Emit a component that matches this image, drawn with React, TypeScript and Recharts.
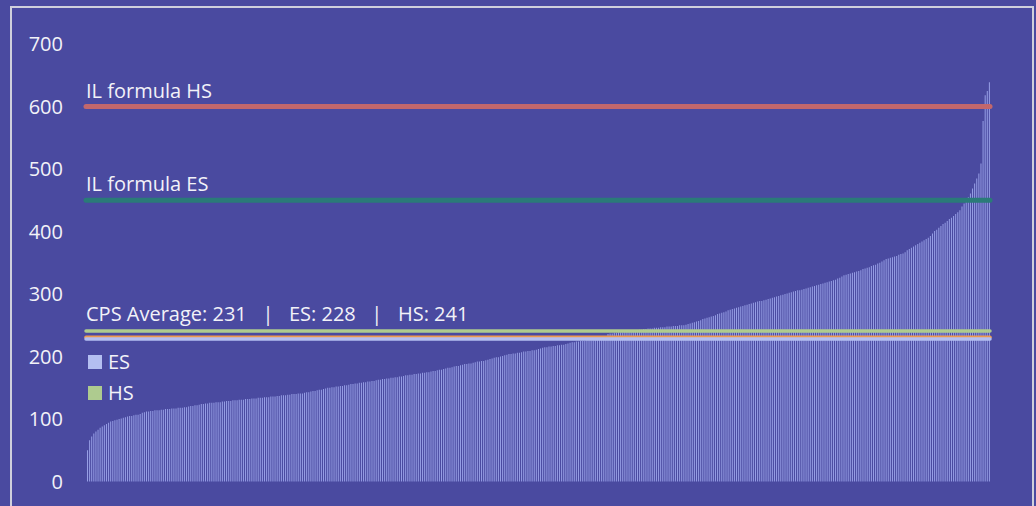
import { ComposedChart, Bar, XAxis, YAxis, ReferenceLine } from 'recharts';

// school-level values, sorted ascending
const schoolValues = [
  50, 66, 72, 77, 80, 83, 86, 88, 90, 92, 94, 96, 97, 98, 99, 100, 101, 102, 103, 104,
  105, 105, 106, 107, 107, 108, 110, 111, 112, 112, 113, 113, 114, 114, 114, 115, 115, 116, 116, 116,
  117, 117, 117, 118, 118, 118, 119, 119, 120, 121, 121, 122, 122, 123, 124, 124, 125, 125, 126, 126,
  126, 127, 127, 127, 128, 128, 129, 129, 129, 130, 130, 130, 131, 131, 131, 132, 132, 132, 133, 133,
  133, 134, 134, 134, 135, 135, 135, 136, 136, 136, 137, 137, 138, 138, 138, 139, 139, 140, 140, 140,
  141, 141, 141, 142, 143, 143, 144, 145, 145, 146, 147, 147, 148, 149, 150, 150, 151, 151, 152, 152,
  153, 153, 154, 154, 155, 156, 156, 157, 157, 158, 158, 159, 159, 160, 160, 161, 161, 162, 163, 163,
  164, 164, 165, 165, 166, 166, 167, 167, 168, 168, 169, 170, 170, 171, 171, 172, 172, 173, 173, 174,
  174, 175, 175, 176, 177, 177, 178, 179, 179, 180, 181, 182, 182, 183, 184, 185, 185, 186, 187, 188,
  188, 189, 189, 190, 191, 192, 192, 193, 193, 194, 195, 196, 197, 198, 199, 199, 200, 201, 202, 203,
  204, 204, 205, 205, 206, 206, 207, 208, 208, 209, 209, 210, 210, 211, 212, 213, 214, 215, 215, 216,
  216, 217, 217, 218, 218, 219, 219, 220, 221, 222, 223, 223, 224, 224, 225, 225, 225, 226, 226, 226,
  226, 227, 227, 227, 228, 229, 232, 236, 237, 237, 238, 238, 239, 239, 239, 240, 240, 241, 241, 242,
  242, 242, 243, 243, 244, 244, 245, 245, 245, 246, 246, 246, 247, 247, 247, 248, 248, 248, 249, 249,
  249, 250, 250, 250, 251, 252, 253, 254, 255, 256, 257, 258, 260, 261, 262, 263, 264, 265, 266, 268,
  269, 270, 271, 272, 274, 275, 276, 277, 278, 279, 280, 281, 282, 283, 284, 285, 286, 287, 288, 289,
  289, 290, 291, 292, 293, 294, 295, 296, 297, 298, 299, 300, 301, 302, 303, 304, 305, 306, 306, 307,
  308, 309, 310, 311, 312, 313, 314, 315, 316, 317, 318, 319, 320, 321, 322, 323, 325, 326, 328, 330,
  331, 332, 333, 334, 335, 336, 337, 338, 340, 341, 342, 343, 345, 346, 347, 349, 350, 352, 354, 356,
  357, 358, 359, 360, 361, 363, 364, 365, 367, 370, 372, 374, 376, 378, 380, 382, 384, 386, 388, 390,
  393, 397, 401, 403, 406, 409, 412, 414, 417, 420, 422, 425, 428, 431, 434, 440, 445, 450, 455, 461,
  469, 477, 485, 493, 509, 577, 618, 625, 639,
];

const yTicks = [0, 100, 200, 300, 400, 500, 600, 700];

const ilFormulaHS = 600;
const ilFormulaES = 450;
const cpsAverage = 231;
const esAverage = 228;
const hsAverage = 241;

const legendItems = [
  { name: 'ES', color: '#b4bff1' },
  { name: 'HS', color: '#aecb8f' },
];

const data = schoolValues.map((v, i) => ({ i, value: v }));

const BG = '#4a4aa0';
const TEXT = '#f2f2f8';
const FONT = '"Open Sans", sans-serif';

const lineLabel = (text: string, dy: number) => (props: any) => {
  const vb = props.viewBox || {};
  return (
    <text
      x={vb.x}
      y={vb.y - dy}
      fill={TEXT}
      fontSize={20}
      fontFamily={FONT}
      style={{ whiteSpace: 'pre' }}
    >
      {text}
    </text>
  );
};

export default function App() {
  return (
    <div
      style={{
        position: 'fixed',
        left: 0,
        top: 0,
        width: 1036,
        height: 506,
        background: BG,
        overflow: 'hidden',
      }}
    >
      <div
        style={{
          position: 'absolute',
          left: 10,
          top: 6,
          width: 1020,
          height: 520,
          border: '2px solid #cfd0dc',
        }}
      />
      <ComposedChart
        width={1036}
        height={506}
        data={data}
        margin={{ top: 44, right: 46, bottom: 24.5, left: 0 }}
        style={{ position: 'absolute', left: 0, top: 0 }}
      >
        <XAxis dataKey="i" hide />
        <YAxis
          domain={[0, 700]}
          ticks={yTicks}
          width={86}
          axisLine={false}
          tickLine={false}
          tickSize={0}
          tickMargin={23}
          tick={{ fill: TEXT, fontSize: 20, fontFamily: FONT }}
          interval={0}
        />
        <Bar dataKey="value" fill="#a4aef2" fillOpacity={0.85} barSize={1} isAnimationActive={false} />
        <ReferenceLine
          y={ilFormulaHS}
          stroke="#c2676c"
          strokeWidth={5}
          strokeLinecap="round"
          label={lineLabel('IL formula HS', 9)}
        />
        <ReferenceLine
          y={ilFormulaES}
          stroke="#2a7b78"
          strokeWidth={5}
          strokeLinecap="round"
          label={lineLabel('IL formula ES', 9)}
        />
        <ReferenceLine y={cpsAverage} stroke="#ee9a4f" strokeWidth={3.5} strokeLinecap="round" />
        <ReferenceLine y={esAverage} stroke="#b4bff1" strokeWidth={3.5} strokeLinecap="round" />
        <ReferenceLine
          y={hsAverage}
          stroke="#aecb8f"
          strokeWidth={3.5}
          strokeLinecap="round"
          label={lineLabel(`CPS Average: ${cpsAverage}   |   ES: ${esAverage}   |   HS: ${hsAverage}`, 10)}
        />
      </ComposedChart>
      {legendItems.map((item, k) => (
        <div
          key={item.name}
          style={{
            position: 'absolute',
            left: 88,
            top: 352 + k * 31,
            display: 'flex',
            alignItems: 'center',
            fontFamily: FONT,
            fontSize: 20,
            color: TEXT,
            lineHeight: '20px',
          }}
        >
          <span style={{ width: 14, height: 14, background: item.color, marginRight: 6, display: 'inline-block' }} />
          {item.name}
        </div>
      ))}
    </div>
  );
}
